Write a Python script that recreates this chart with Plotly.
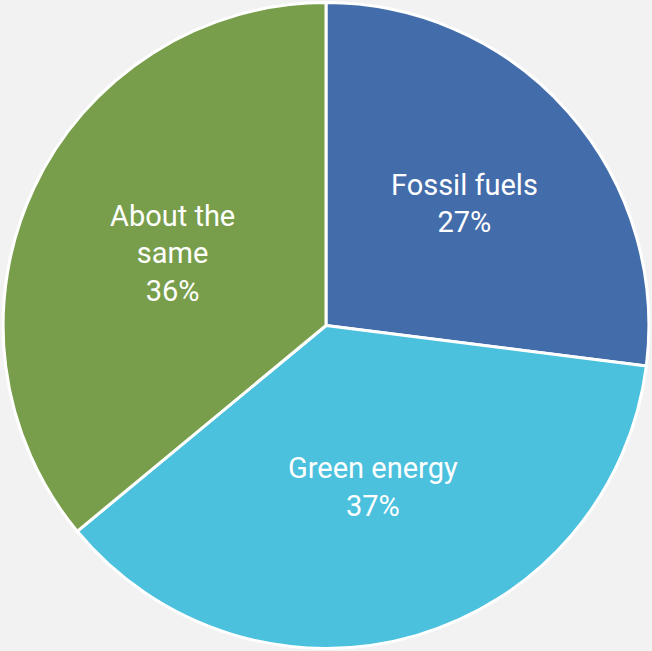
import plotly.graph_objects as go

labels = ["Fossil fuels", "Green energy", "About the same"]
display_labels = ["Fossil fuels", "Green energy", "About the<br>same"]
values = [27, 37, 36]
colors = ["#436CAA", "#4BC1DE", "#789E4B"]

fig = go.Figure(go.Pie(
    labels=labels,
    values=values,
    text=display_labels,
    texttemplate="%{text}<br>%{value}%",
    textposition="inside",
    insidetextorientation="horizontal",
    sort=False,
    direction="clockwise",
    rotation=0,
    domain=dict(x=[0.003, 0.997], y=[0.004, 0.996]),
    marker=dict(colors=colors, line=dict(color="white", width=3)),
    textfont=dict(family="Roboto", size=29, color="white"),
    hoverinfo="label+percent",
    showlegend=False,
))

fig.update_layout(
    width=652, height=651,
    margin=dict(l=0, r=0, t=0, b=0),
    paper_bgcolor="#F2F2F2",
    plot_bgcolor="#F2F2F2",
)

fig.write_html("out.html")
